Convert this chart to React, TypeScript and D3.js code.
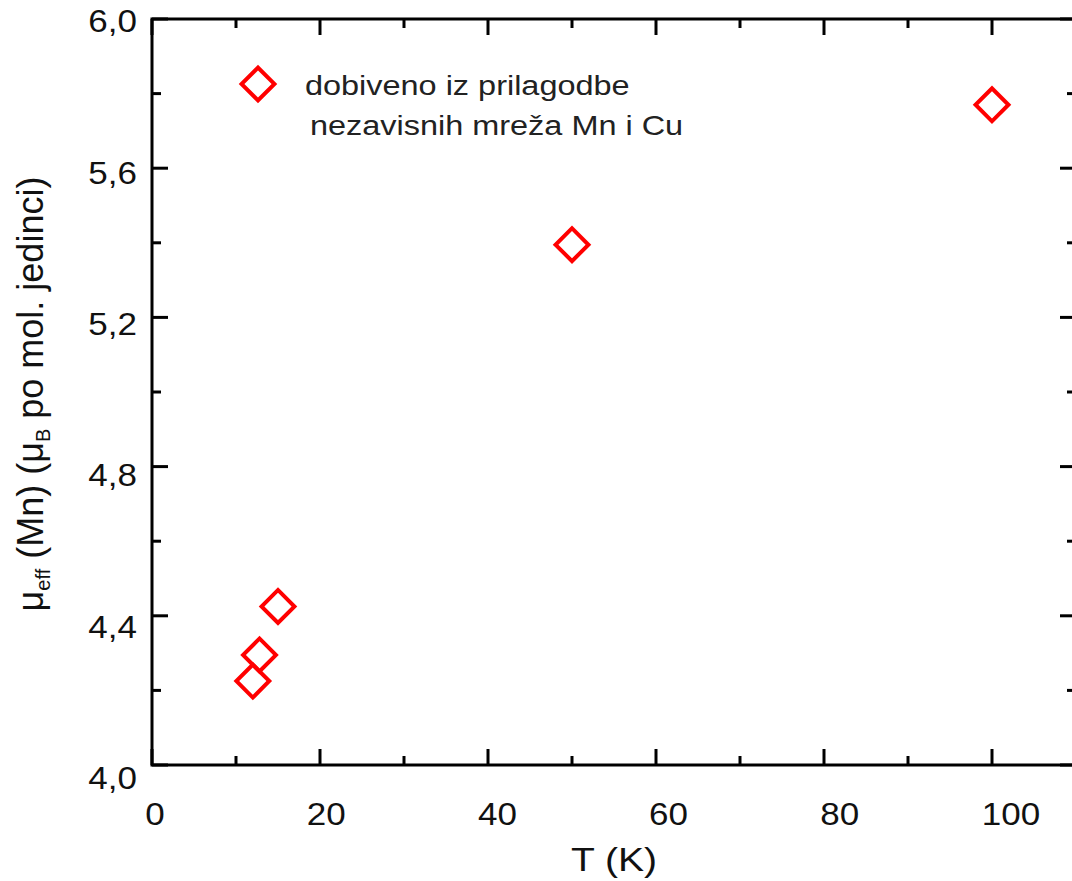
import React, { useRef, useEffect } from 'react';
import * as d3 from 'd3';

// T (K) i mu_eff (Mn)
const temperatures = [12, 12.8, 15, 50, 100];
const muEff = [4.225, 4.295, 4.425, 5.395, 5.77];

const xMajorTicks = [0, 20, 40, 60, 80, 100];
const xMinorTicks = [10, 30, 50, 70, 90];
const yMajorTicks = [4.0, 4.4, 4.8, 5.2, 5.6, 6.0];
const yMinorTicks = [4.2, 4.6, 5.0, 5.4, 5.8];

const legendLines = ['dobiveno iz prilagodbe', 'nezavisnih mreža Mn i Cu'];

const fmt = (v: number) => v.toFixed(1).replace('.', ',');

const App: React.FC = () => {
  const svgRef = useRef<SVGSVGElement>(null);
  const width = 1072;
  const height = 881;

  useEffect(() => {
    if (!svgRef.current) return;
    const svg = d3.select(svgRef.current);
    svg.selectAll('*').remove();

    const left = 152, top = 19, right = 1076, bottom = 765;

    const x = d3.scaleLinear().domain([0, 110]).range([left, right]);
    const y = d3.scaleLinear().domain([4, 6]).range([bottom, top]);
    // natpisi su u originalu malo pomaknuti
    const xLab = d3.scaleLinear().domain([0, 100]).range([155, 1011]);
    const yLab = d3.scaleLinear().domain([4, 6]).range([bottom + 13, top + 2]);

    const axisColor = '#000';
    const sw = 3;
    const major = 16, minor = 9;
    const stretch = 1.13; // original je razvučen vodoravno

    svg.append('rect')
      .attr('x', left).attr('y', top)
      .attr('width', right - left).attr('height', bottom - top)
      .attr('fill', 'none')
      .attr('stroke', axisColor)
      .attr('stroke-width', sw);

    const ticks = svg.append('g').attr('stroke', axisColor).attr('stroke-width', sw);
    const addX = (vals: number[], len: number) => {
      vals.forEach(v => {
        ticks.append('line').attr('x1', x(v)).attr('x2', x(v)).attr('y1', bottom).attr('y2', bottom - len);
        ticks.append('line').attr('x1', x(v)).attr('x2', x(v)).attr('y1', top).attr('y2', top + len);
      });
    };
    const addY = (vals: number[], len: number) => {
      vals.forEach(v => {
        ticks.append('line').attr('x1', left).attr('x2', left + len).attr('y1', y(v)).attr('y2', y(v));
        ticks.append('line').attr('x1', right).attr('x2', right - len).attr('y1', y(v)).attr('y2', y(v));
      });
    };
    addX(xMajorTicks, major);
    addX(xMinorTicks, minor);
    addY(yMajorTicks, major);
    addY(yMinorTicks, minor);

    const font = '"Liberation Sans", Arial, sans-serif';

    svg.append('g').selectAll('text')
      .data(xMajorTicks)
      .join('text')
      .attr('transform', d => `translate(${xLab(d)},825) scale(${stretch},1)`)
      .attr('text-anchor', 'middle')
      .style('font-family', font)
      .style('font-size', '31px')
      .attr('fill', '#111')
      .text(d => String(d));

    svg.append('g').selectAll('text')
      .data(yMajorTicks)
      .join('text')
      .attr('transform', d => `translate(137,${yLab(d)}) scale(${stretch},1)`)
      .attr('dy', '0.36em')
      .attr('text-anchor', 'end')
      .style('font-family', font)
      .style('font-size', '31px')
      .attr('fill', '#111')
      .text(d => fmt(d));

    // naslov osi x
    svg.append('text')
      .attr('transform', `translate(614,871) scale(1.15,1)`)
      .attr('text-anchor', 'middle')
      .style('font-family', font)
      .style('font-size', '34px')
      .attr('fill', '#111')
      .text('T (K)');

    // naslov osi y
    const yt = svg.append('text')
      .attr('transform', 'translate(43,394) rotate(-90)')
      .attr('text-anchor', 'middle')
      .style('font-family', font)
      .style('font-size', '36px')
      .attr('fill', '#111');
    yt.append('tspan').text('μ');
    yt.append('tspan').attr('dy', 7).style('font-size', '20px').text('eff');
    yt.append('tspan').attr('dy', -7).text(' (Mn) (μ');
    yt.append('tspan').attr('dy', 7).style('font-size', '20px').text('B');
    yt.append('tspan').attr('dy', -7).text(' po mol. jedinci)');

    // točke
    const diamond = d3.symbol().type(d3.symbolSquare).size(540);
    const data = temperatures.map((t, i) => ({ t, m: muEff[i] }));
    svg.append('g').selectAll('path')
      .data(data)
      .join('path')
      .attr('d', diamond)
      .attr('transform', d => `translate(${x(d.t)},${y(d.m)}) rotate(45)`)
      .attr('fill', 'none')
      .attr('stroke', '#ff0000')
      .attr('stroke-width', 4);

    // legenda
    svg.append('path')
      .attr('d', diamond)
      .attr('transform', 'translate(258,84) rotate(45)')
      .attr('fill', 'none')
      .attr('stroke', '#ff0000')
      .attr('stroke-width', 4);

    svg.append('g').selectAll('text')
      .data(legendLines)
      .join('text')
      .attr('transform', (_, i) => `translate(${i === 0 ? 305 : 310},${95 + i * 40}) scale(1.18,1)`)
      .style('font-family', font)
      .style('font-size', '27.5px')
      .attr('fill', '#222')
      .text(d => d);
  }, []);

  return (
    <svg
      ref={svgRef}
      width={width}
      height={height}
      style={{ position: 'absolute', left: 0, top: 0, background: '#fff' }}
    />
  );
};

export default App;
